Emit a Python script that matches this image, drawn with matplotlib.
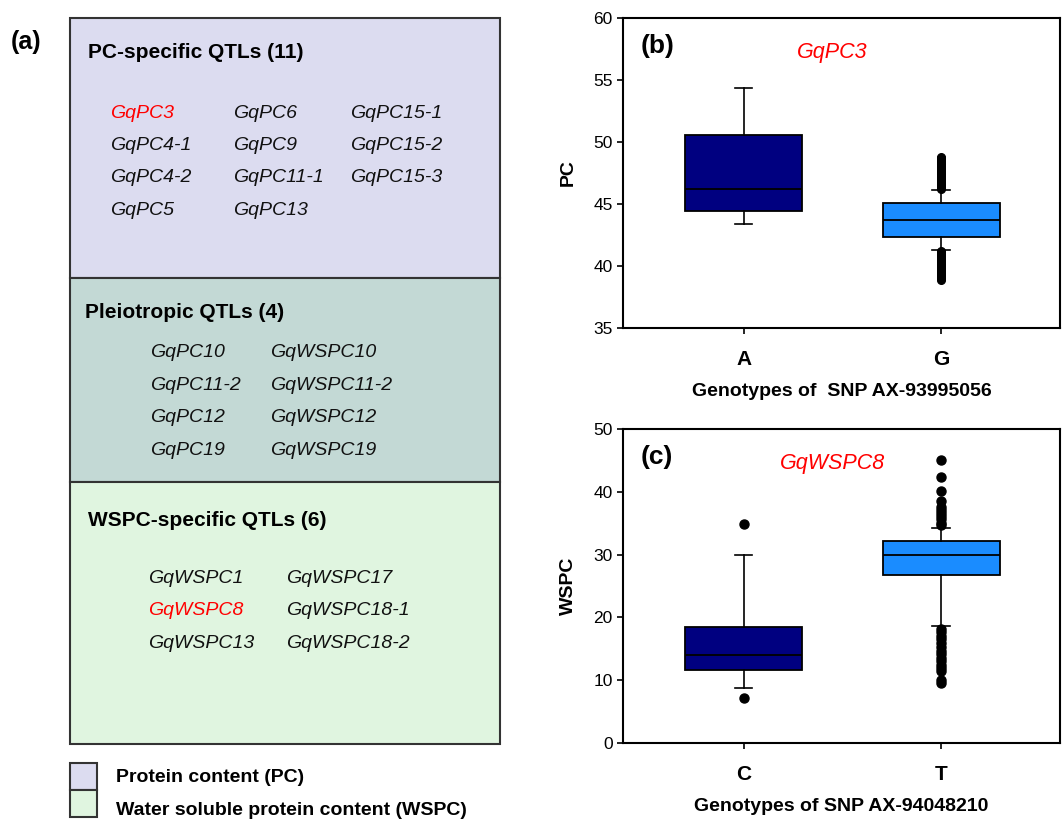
import matplotlib.pyplot as plt
from matplotlib.patches import Rectangle

plt.rcParams['font.family'] = ['Liberation Sans', 'DejaVu Sans']

# panel (a): QTL lists
pc_specific = [['GqPC3', 'GqPC4-1', 'GqPC4-2', 'GqPC5'],
               ['GqPC6', 'GqPC9', 'GqPC11-1', 'GqPC13'],
               ['GqPC15-1', 'GqPC15-2', 'GqPC15-3']]
pleiotropic = [['GqPC10', 'GqPC11-2', 'GqPC12', 'GqPC19'],
               ['GqWSPC10', 'GqWSPC11-2', 'GqWSPC12', 'GqWSPC19']]
wspc_specific = [['GqWSPC1', 'GqWSPC8', 'GqWSPC13'],
                 ['GqWSPC17', 'GqWSPC18-1', 'GqWSPC18-2']]
highlight = ['GqPC3', 'GqWSPC8']

# panel (b): PC by genotype of AX-93995056
b_labels = ['A', 'G']
b_whislo = [43.4, 41.3]
b_q1 = [44.4, 42.3]
b_med = [46.2, 43.7]
b_q3 = [50.6, 45.1]
b_whishi = [54.4, 46.1]
b_fliers = [[],
            [46.2, 46.3, 46.4, 46.5, 46.6, 46.7, 46.8, 46.9, 47.0, 47.1, 47.2,
             47.3, 47.4, 47.5, 47.6, 47.7, 47.8, 47.9, 48.0, 48.1, 48.2, 48.3,
             48.4, 48.5, 48.6, 48.7, 48.8,
             41.2, 41.1, 41.0, 40.9, 40.8, 40.7, 40.6, 40.5, 40.4, 40.3, 40.2,
             40.1, 40.0, 39.9, 39.8, 39.7, 39.6, 39.5, 39.4, 39.3, 39.2, 39.1,
             39.0, 38.9]]

# panel (c): WSPC by genotype of AX-94048210
c_labels = ['C', 'T']
c_whislo = [8.7, 18.6]
c_q1 = [11.6, 26.7]
c_med = [14.0, 30.0]
c_q3 = [18.4, 32.1]
c_whishi = [30.0, 34.3]
c_fliers = [[34.8, 7.1],
            [45.0, 42.3, 40.2, 38.6, 37.6, 37.1, 36.6, 36.1, 35.6, 35.1, 34.7,
             18.2, 17.6, 17.0, 16.5, 16.0, 15.3, 14.7, 14.1, 13.5, 13.0, 12.5,
             12.0, 11.5, 10.1, 9.6]]

box_colors = ['#000080', '#1a8cff']

fig = plt.figure(figsize=(10.62, 8.22), dpi=100)

# ---- panel (a), drawn in pixel coordinates
axa = fig.add_axes([0, 0, 1, 1])
axa.set_xlim(0, 1062)
axa.set_ylim(822, 0)
axa.axis('off')

sections = [(18, 278, '#dcdcf0'), (278, 482, '#c3d9d5'), (482, 744, '#e0f5e0')]
for top, bot, col in sections:
    axa.add_patch(Rectangle((70, top), 430, bot - top, facecolor=col,
                            edgecolor='#333333', lw=1.5))

axa.text(11, 42, '(a)', fontsize=18, fontweight='bold', va='center')

def item_text(x, y, name):
    axa.text(x, y, name, fontsize=14, style='italic', va='center',
             color='red' if name in highlight else '#111111')

axa.text(88, 53, 'PC-specific QTLs (11)', fontsize=15, fontweight='bold', va='center')
for col, x in zip(pc_specific, [110, 233, 350]):
    for name, y in zip(col, [113, 145, 177, 210]):
        item_text(x, y, name)

axa.text(85, 312, 'Pleiotropic QTLs (4)', fontsize=15, fontweight='bold', va='center')
for col, x in zip(pleiotropic, [150, 270]):
    for name, y in zip(col, [352, 385, 417, 450]):
        item_text(x, y, name)

axa.text(88, 520, 'WSPC-specific QTLs (6)', fontsize=15, fontweight='bold', va='center')
for col, x in zip(wspc_specific, [148, 286]):
    for name, y in zip(col, [578, 610, 643]):
        item_text(x, y, name)

axa.add_patch(Rectangle((70, 763), 27, 27, facecolor='#dcdcf0', edgecolor='#333333', lw=1.5))
axa.add_patch(Rectangle((70, 790), 27, 27, facecolor='#e0f5e0', edgecolor='#333333', lw=1.5))
axa.text(116, 777, 'Protein content (PC)', fontsize=14, fontweight='bold', va='center')
axa.text(116, 810, 'Water soluble protein content (WSPC)', fontsize=14, fontweight='bold', va='center')


def box_panel(rect, labels, whislo, q1, med, q3, whishi, fliers, ylim, yticks,
              ylabel, xlabel, tag, gene, msize):
    ax = fig.add_axes(rect)
    stats = []
    for i in range(len(labels)):
        stats.append(dict(label=labels[i], whislo=whislo[i], q1=q1[i], med=med[i],
                          q3=q3[i], whishi=whishi[i], fliers=fliers[i]))
    bp = ax.bxp(stats, positions=[1, 2], widths=0.59, capwidths=0.09,
                patch_artist=True,
                boxprops=dict(edgecolor='black', lw=1.3),
                medianprops=dict(color='black', lw=1.3),
                whiskerprops=dict(color='black', lw=1.2),
                capprops=dict(color='black', lw=1.2),
                flierprops=dict(marker='o', markerfacecolor='black',
                                markeredgecolor='black', markersize=msize))
    for patch, col in zip(bp['boxes'], box_colors):
        patch.set_facecolor(col)
    ax.set_xlim(0.39, 2.6)
    ax.set_ylim(*ylim)
    ax.set_yticks(yticks)
    ax.tick_params(axis='y', labelsize=12.5, direction='out', length=4, width=1.2)
    ax.tick_params(axis='x', labelsize=15, direction='out', length=4, width=1.2, pad=12)
    for t in ax.get_xticklabels():
        t.set_fontweight('bold')
    for s in ax.spines.values():
        s.set_linewidth(1.5)
    ax.set_ylabel(ylabel, fontsize=14, fontweight='bold', labelpad=12)
    ax.set_xlabel(xlabel, fontsize=14, fontweight='bold', labelpad=10)
    ax.text(0.04, 0.91, tag, transform=ax.transAxes, fontsize=19,
            fontweight='bold', va='center')
    ax.text(0.48, 0.89, gene, transform=ax.transAxes, fontsize=15.5,
            style='italic', color='red', va='center', ha='center')
    return ax


box_panel([0.5866, 0.601, 0.4115, 0.377], b_labels, b_whislo, b_q1, b_med, b_q3,
          b_whishi, b_fliers, (35, 60), [35, 40, 45, 50, 55, 60], 'PC',
          'Genotypes of  SNP AX-93995056', '(b)', 'GqPC3', 5.5)
box_panel([0.5866, 0.0961, 0.4115, 0.382], c_labels, c_whislo, c_q1, c_med, c_q3,
          c_whishi, c_fliers, (0, 50), [0, 10, 20, 30, 40, 50], 'WSPC',
          'Genotypes of SNP AX-94048210', '(c)', 'GqWSPC8', 6.5)

fig.savefig('out.png', dpi=100)
